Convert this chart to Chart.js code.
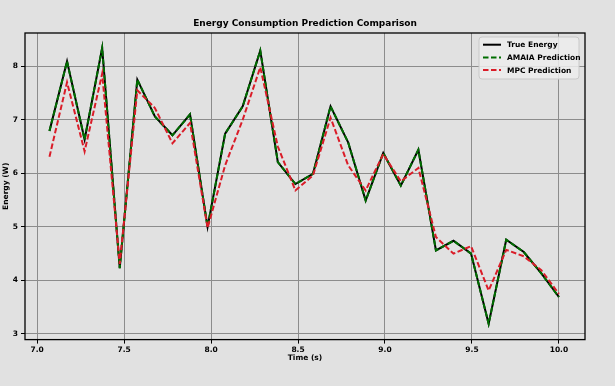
<!DOCTYPE html>
<html>
<head>
<meta charset="utf-8">
<script src="https://cdn.jsdelivr.net/npm/chart.js@4.4.1/dist/chart.umd.min.js"></script>
<style>
  html, body { margin: 0; padding: 0; background: #e1e1e1; }
  #wrap { width: 615px; height: 386px; }
</style>
</head>
<body>
<div id="wrap"><canvas id="myChart" width="615" height="386"></canvas></div>
<script>
// data
const timeValues = [7.0707, 7.1717, 7.2727, 7.3737, 7.4747, 7.5758, 7.6768, 7.7778, 7.8788, 7.9798,
                    8.0808, 8.1818, 8.2828, 8.3838, 8.4848, 8.5859, 8.6869, 8.7879, 8.8889, 8.9899,
                    9.0909, 9.1919, 9.2929, 9.3939, 9.4949, 9.5960, 9.6970, 9.7980, 9.8990, 10.0];
const trueEnergy = [6.79, 8.09, 6.63, 8.34, 4.23, 7.75, 7.06, 6.71, 7.10, 5.00,
                    6.74, 7.25, 8.29, 6.21, 5.80, 5.99, 7.25, 6.58, 5.49, 6.38,
                    5.77, 6.44, 4.56, 4.74, 4.50, 3.19, 4.76, 4.53, 4.13, 3.69];
const amaiaPrediction = [6.79, 8.09, 6.63, 8.34, 4.23, 7.75, 7.06, 6.71, 7.10, 5.00,
                         6.74, 7.25, 8.29, 6.21, 5.80, 5.99, 7.25, 6.58, 5.49, 6.38,
                         5.77, 6.44, 4.56, 4.74, 4.50, 3.19, 4.76, 4.53, 4.13, 3.69];
const mpcPrediction = [6.31, 7.70, 6.41, 7.86, 4.31, 7.55, 7.22, 6.56, 6.94, 4.98,
                       6.15, 7.00, 7.98, 6.50, 5.68, 5.96, 7.04, 6.15, 5.68, 6.36,
                       5.85, 6.10, 4.81, 4.50, 4.64, 3.81, 4.57, 4.45, 4.19, 3.75];
const seriesNames = ['True Energy', 'AMAIA Prediction', 'MPC Prediction'];
const xTickValues = [7.0, 7.5, 8.0, 8.5, 9.0, 9.5, 10.0];
const yTickValues = [3, 4, 5, 6, 7, 8];
const chartTitle = 'Energy Consumption Prediction Comparison';

const FONT = 'DejaVu Sans';

function toPoints(ys) {
  return ys.map((y, i) => ({ x: timeValues[i], y: y }));
}

// grey figure background
const bgPlugin = {
  id: 'bg',
  beforeDraw(chart) {
    const c = chart.ctx;
    c.save();
    c.fillStyle = '#e1e1e1';
    c.fillRect(0, 0, chart.width, chart.height);
    c.restore();
  }
};

// box round the plot, title over the plot, legend in the upper right corner
const framePlugin = {
  id: 'frame',
  afterDatasetsDraw(chart) {
    const a = chart.chartArea;
    const c = chart.ctx;
    c.save();
    c.strokeStyle = '#000';
    c.lineWidth = 1.3;
    c.strokeRect(a.left, a.top, a.right - a.left, a.bottom - a.top);
    c.restore();
  },
  afterDraw(chart) {
    const a = chart.chartArea;
    const c = chart.ctx;
    c.save();
    // title, centred on the plot like matplotlib does
    c.font = 'bold 9px "' + FONT + '"';
    c.fillStyle = '#000';
    c.textAlign = 'center';
    c.textBaseline = 'middle';
    c.fillText(chartTitle, (a.left + a.right) / 2, 24);

    const w = 100, h = 42;
    const x0 = a.right - 6 - w, y0 = a.top + 4;
    c.beginPath();
    c.roundRect(x0, y0, w, h, 3);
    c.fillStyle = 'rgba(236,236,236,0.85)';
    c.fill();
    c.strokeStyle = '#c9c9c9';
    c.lineWidth = 1;
    c.stroke();
    c.font = 'bold 7.5px "' + FONT + '"';
    c.textAlign = 'left';
    chart.data.datasets.forEach((ds, i) => {
      const y = y0 + 7.7 + i * 12.7;
      c.beginPath();
      c.setLineDash(ds.borderDash || []);
      c.strokeStyle = ds.borderColor;
      c.lineWidth = ds.borderWidth;
      c.moveTo(x0 + 4, y);
      c.lineTo(x0 + 22, y);
      c.stroke();
      c.setLineDash([]);
      c.fillStyle = '#000';
      c.fillText(ds.label, x0 + 28, y + 0.5);
    });
    c.restore();
  }
};

let ctx = document.getElementById('myChart').getContext('2d');
let myChart = new Chart(ctx, {
  type: 'line',
  data: {
    datasets: [{
      label: seriesNames[0],
      data: toPoints(trueEnergy),
      borderColor: '#000000',
      borderWidth: 2,
      order: 3
    }, {
      label: seriesNames[1],
      data: toPoints(amaiaPrediction),
      borderColor: '#006e00',
      borderWidth: 2,
      borderDash: [5.5, 2.5],
      order: 2
    }, {
      label: seriesNames[2],
      data: toPoints(mpcPrediction),
      borderColor: '#da1c28',
      borderWidth: 2,
      borderDash: [5.5, 2.5],
      order: 1
    }]
  },
  plugins: [bgPlugin, framePlugin],
  options: {
    responsive: false,
    animation: false,
    devicePixelRatio: 1,
    elements: {
      point: { radius: 0 },
      line: { tension: 0, fill: false }
    },
    layout: {
      padding: { left: 0, right: 30, top: 33, bottom: 0 }
    },
    plugins: {
      legend: { display: false },
      tooltip: { enabled: false },
      title: { display: false }
    },
    scales: {
      x: {
        type: 'linear',
        min: 6.93,
        max: 10.15,
        afterBuildTicks: s => { s.ticks = xTickValues.map(v => ({ value: v })); },
        afterFit: s => { s.height = 46.4; },
        border: { display: false },
        grid: { color: '#8c8c8c', lineWidth: 1, tickColor: '#000', tickLength: 4 },
        ticks: {
          color: '#000',
          padding: 2,
          maxRotation: 0,
          autoSkip: false,
          font: { family: FONT, size: 7.5, weight: 'bold' },
          callback: v => Number(v).toFixed(1)
        },
        title: {
          display: true,
          text: 'Time (s)',
          color: '#000',
          font: { family: FONT, size: 7.5, weight: 'bold', lineHeight: 1.2 },
          padding: { top: 0, bottom: 23.5 }
        }
      },
      y: {
        type: 'linear',
        min: 2.895,
        max: 8.62,
        afterBuildTicks: s => { s.ticks = yTickValues.map(v => ({ value: v })); },
        afterFit: s => { s.width = 25; },
        border: { display: false },
        grid: { color: '#8c8c8c', lineWidth: 1, tickColor: '#000', tickLength: 4 },
        ticks: {
          color: '#000',
          padding: 3,
          autoSkip: false,
          font: { family: FONT, size: 7.5, weight: 'bold' },
          callback: v => String(v)
        },
        title: {
          display: true,
          text: 'Energy (W)',
          color: '#000',
          font: { family: FONT, size: 7.5, weight: 'bold', lineHeight: 1.2 },
          padding: { top: 1.5, bottom: 0 }
        }
      }
    }
  }
});
</script>
</body>
</html>
